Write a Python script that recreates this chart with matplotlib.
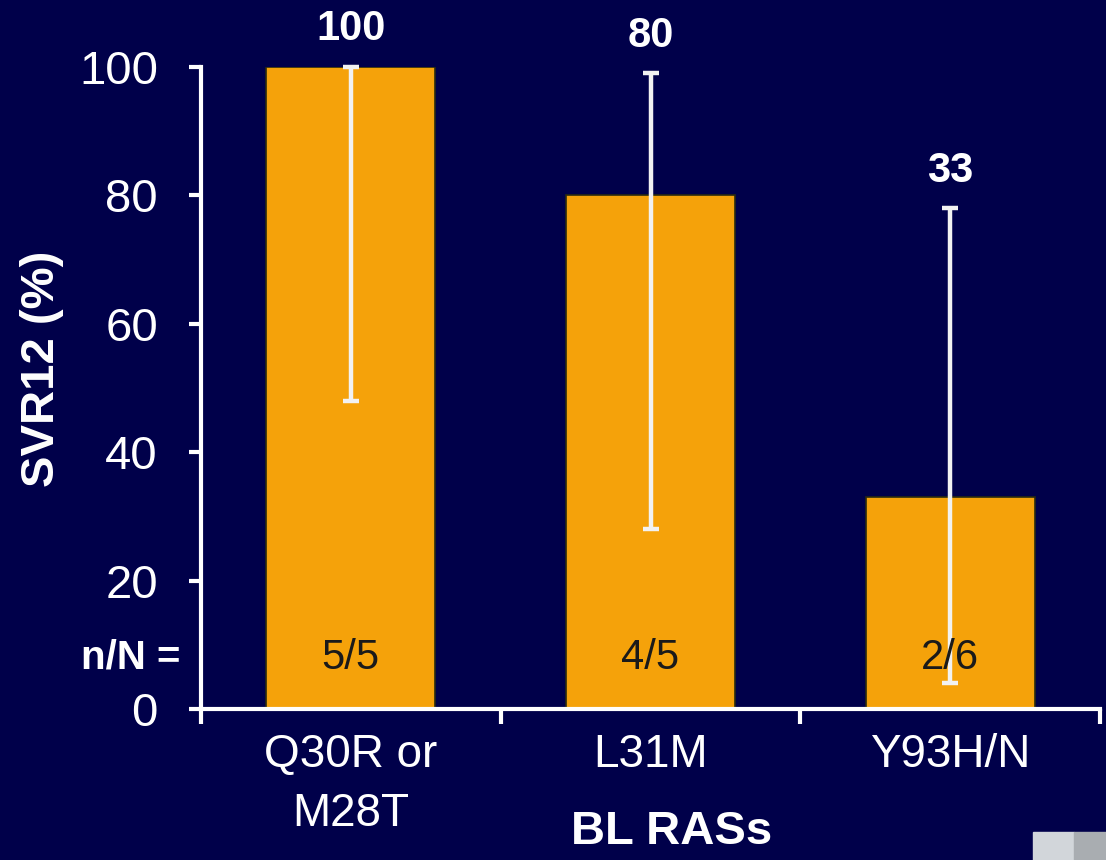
import matplotlib.pyplot as plt
from matplotlib.patches import Rectangle
from matplotlib.transforms import blended_transform_factory

plt.rcParams['font.family'] = ['Liberation Sans', 'DejaVu Sans']

# SVR12 by baseline RAS
categories = ['Q30R or\nM28T', 'L31M', 'Y93H/N']
svr = [100, 80, 33]
ci_low = [48, 28, 4]
ci_high = [100, 99, 78]
n_of_N = ['5/5', '4/5', '2/6']
yticks = [0, 20, 40, 60, 80, 100]

BG = '#00004a'
BAR = '#f5a20a'
WHITE = '#ffffff'

fig = plt.figure(figsize=(11.06, 8.60), dpi=100, facecolor=BG)
ax = fig.add_axes([201 / 1106, 1 - 709 / 860, 899 / 1106, 642 / 860])
ax.set_facecolor(BG)

x = list(range(len(categories)))
ax.bar(x, svr, width=0.565, color=BAR, edgecolor='#2a2a10', linewidth=1.2, zorder=2)

yerr = [[v - lo for v, lo in zip(svr, ci_low)], [hi - v for v, hi in zip(svr, ci_high)]]
ax.errorbar(x, svr, yerr=yerr, fmt='none', ecolor='#f2f2f2', elinewidth=3.2,
            capsize=6, capthick=3.2, zorder=3, clip_on=False)

# value labels above the upper limit of each interval
for xi, v, hi in zip(x, svr, ci_high):
    ax.annotate(str(v), (xi, hi), xytext=(0, 27), textcoords='offset points',
                ha='center', va='center', color=WHITE, fontsize=30, fontweight='bold',
                annotation_clip=False)

# n/N counts inside the bars
for xi, s in zip(x, n_of_N):
    ax.text(xi, 8, s, ha='center', va='center', color='#1a1a1a', fontsize=30, zorder=4)

trans = blended_transform_factory(ax.transAxes, ax.transData)
ax.text(-0.023, 8, 'n/N =', transform=trans, ha='right', va='center',
        color=WHITE, fontsize=29, fontweight='bold')

ax.set_xlim(-0.5, 2.5)
ax.set_ylim(0, 100)
ax.set_yticks(yticks)
ax.set_xticks([-0.5, 0.5, 1.5, 2.5])
ax.set_xticklabels([])
ax.set_xticks(x, minor=True)
ax.set_xticklabels(categories, minor=True)

for side in ['top', 'right']:
    ax.spines[side].set_visible(False)
for side in ['left', 'bottom']:
    ax.spines[side].set_color(WHITE)
    ax.spines[side].set_linewidth(3)

ax.tick_params(axis='y', colors=WHITE, labelsize=34, length=9, width=3, pad=22)
ax.tick_params(axis='x', which='major', colors=WHITE, length=11, width=3)
ax.tick_params(axis='x', which='minor', colors=WHITE, labelsize=33, length=0, pad=17)
for lab in ax.get_xticklabels(minor=True):
    lab.set_linespacing(1.45)

ax.set_ylabel('SVR12 (%)', color=WHITE, fontsize=34, fontweight='bold')
ax.yaxis.set_label_coords(-0.152, 0.53)
ax.set_xlabel('BL RASs', color=WHITE, fontsize=34, fontweight='bold')
ax.xaxis.set_label_coords(0.524, -0.158)

# corner logo fragment
fig.patches.append(Rectangle((1033 / 1106, 0), 41 / 1106, 28 / 860,
                             transform=fig.transFigure, color='#d2d6da'))
fig.patches.append(Rectangle((1074 / 1106, 0), 32 / 1106, 28 / 860,
                             transform=fig.transFigure, color='#a9adb1'))

fig.savefig('out.png', dpi=100, facecolor=BG)
